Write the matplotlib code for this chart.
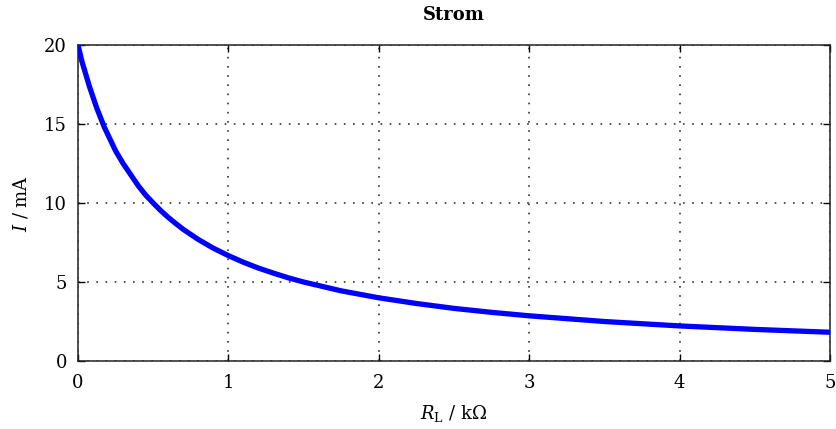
import matplotlib
matplotlib.use("Agg")
import matplotlib.pyplot as plt

# Values
r_load = [0.0, 0.025, 0.05, 0.075, 0.1, 0.125, 0.15, 0.175, 0.2, 0.25, 0.3, 0.35, 0.4, 0.45,
          0.5, 0.55, 0.6, 0.65, 0.7, 0.8, 0.9, 1.0, 1.1, 1.2, 1.3, 1.4, 1.5, 1.75, 2.0,
          2.25, 2.5, 2.75, 3.0, 3.5, 4.0, 4.5, 5.0]
current = [20.0, 19.0, 18.2, 17.4, 16.7, 16.0, 15.4, 14.8, 14.3, 13.3, 12.5, 11.8, 11.1, 10.5,
           10.0, 9.52, 9.09, 8.70, 8.33, 7.69, 7.14, 6.67, 6.25, 5.88, 5.56, 5.26, 5.0, 4.44, 4.0,
           3.64, 3.33, 3.08, 2.86, 2.5, 2.22, 2.0, 1.82]
x_ticks = [0, 1, 2, 3, 4, 5]
y_ticks = [0, 5, 10, 15, 20]

plt.rcParams['font.family'] = ['DejaVu Serif']
plt.rcParams['mathtext.fontset'] = 'dejavuserif'

fig = plt.figure(figsize=(8.37, 4.29), dpi=100)
ax = fig.add_axes([0.0932, 0.1585, 0.8984, 0.7365])
ax.plot(r_load, current, color='#0000ff', lw=3.8, solid_capstyle='butt', zorder=3)
ax.set_xlim(0, 5)
ax.set_ylim(0, 20)
ax.set_xticks(x_ticks)
ax.set_yticks(y_ticks)
ax.tick_params(direction='in', top=True, right=True, length=5, width=1, labelsize=13)
ax.tick_params(axis='x', pad=9)
ax.tick_params(axis='y', pad=8)
ax.grid(True, color='#333333', linestyle=(0, (1, 4.5)), linewidth=1.2)
for s in ax.spines.values():
    s.set_linewidth(1.1)
    s.set_color('#222222')
ax.set_title('Strom', fontweight='bold', fontsize=13, pad=18)
ax.set_xlabel(r'$R_\mathrm{L}$ / k$\Omega$', fontsize=13, labelpad=8)
ax.set_ylabel(r'$I$ / mA', fontsize=13, labelpad=10)
fig.savefig('out.png', dpi=100)
